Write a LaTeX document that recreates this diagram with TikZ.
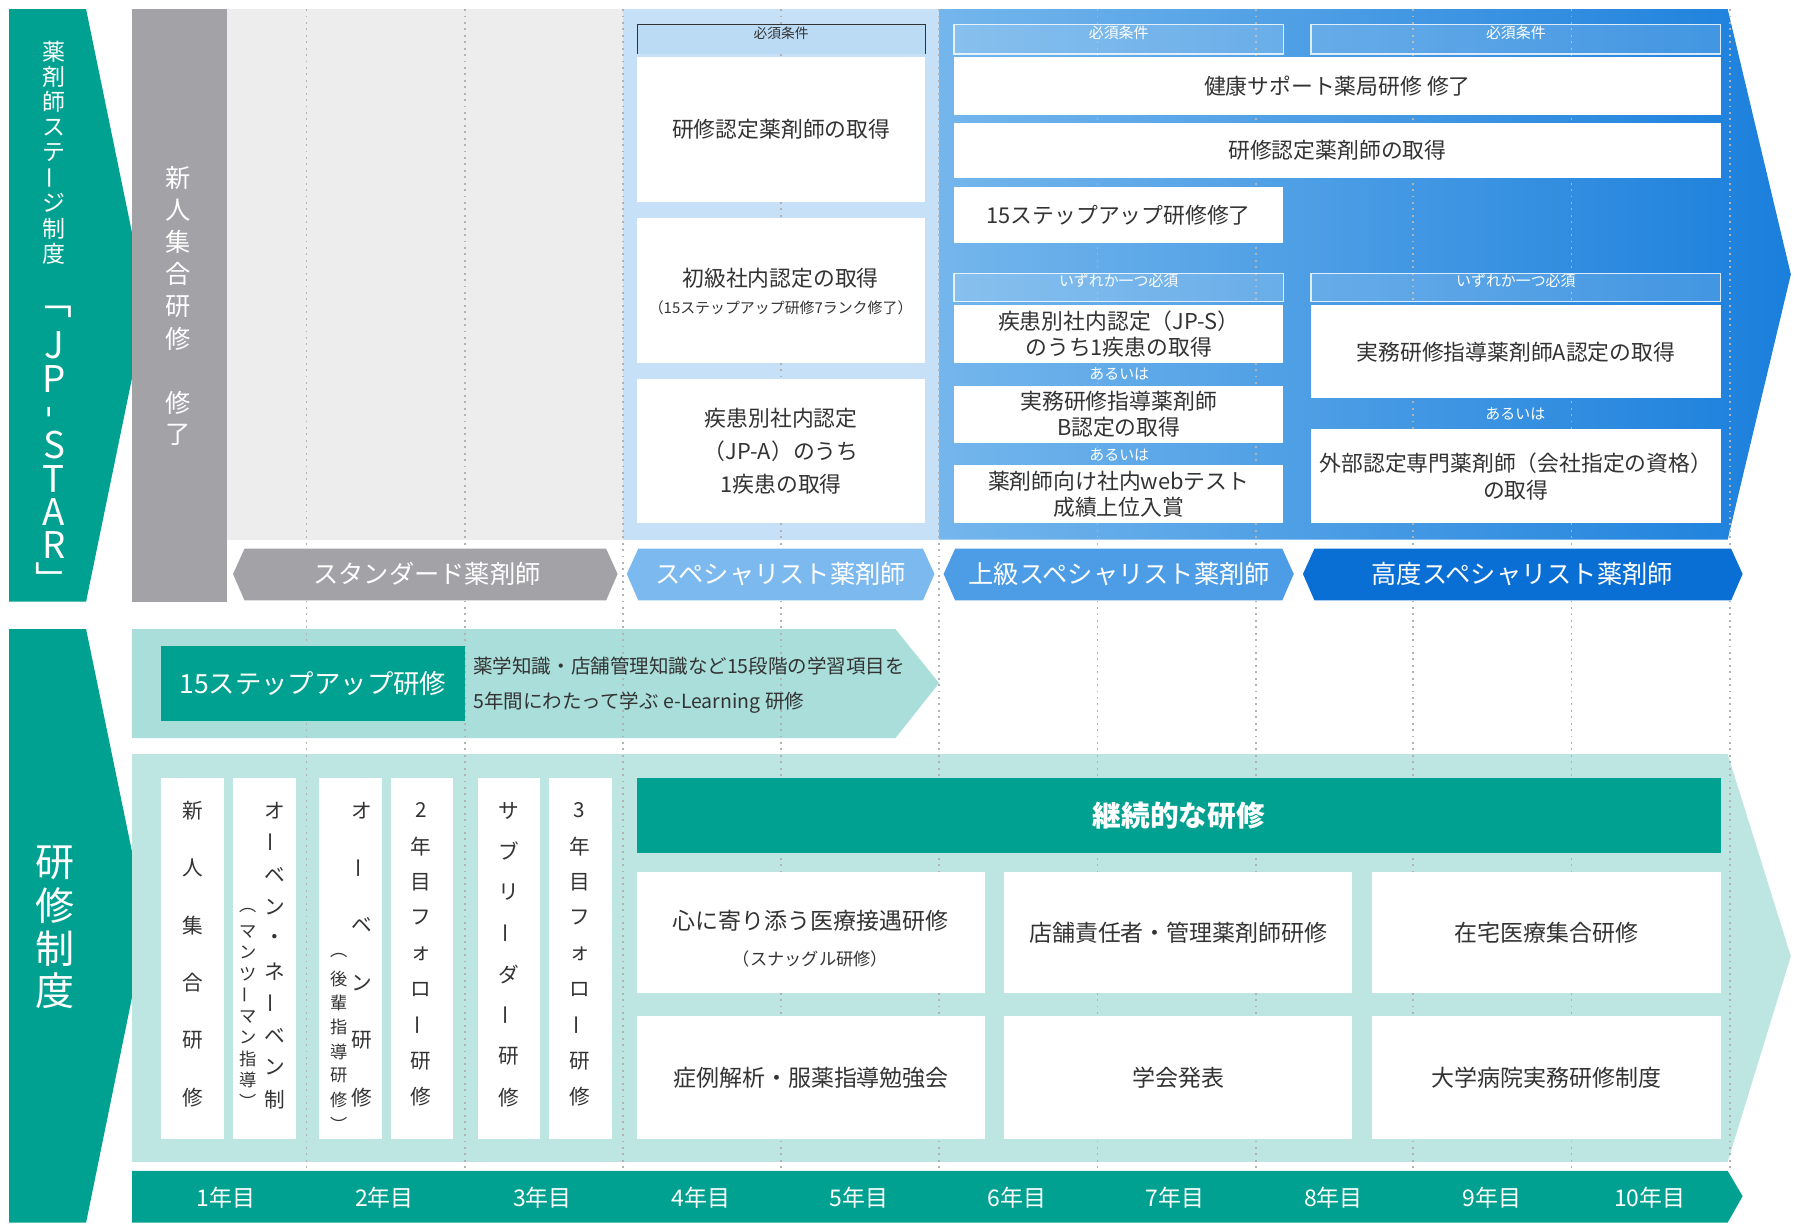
\documentclass[tikz,border=0pt]{standalone}
\usepackage{fontspec}
\setmainfont{Noto Sans CJK JP}
\usetikzlibrary{fit}
\definecolor{teal1}{HTML}{00A190}
\definecolor{teall}{HTML}{A9DEDA}
\definecolor{teallb}{HTML}{BDE6E3}
\definecolor{grayc}{HTML}{A2A2A7}
\definecolor{graybg}{HTML}{EDEDEE}
\definecolor{lbbg}{HTML}{C6E1F7}
\definecolor{lbhd}{HTML}{BBDBF5}
\definecolor{bl1}{HTML}{74B6EC}
\definecolor{bl2}{HTML}{1A7FDC}
\definecolor{st2}{HTML}{7CB9EE}
\definecolor{st3}{HTML}{4C9DE6}
\definecolor{st4}{HTML}{0A6FD4}
\definecolor{txt}{HTML}{333333}
\newcommand{\vcol}[5]{\foreach \ch [count=\i] in {#5} \node[font=#4, inner sep=0] at (#1, {#2+(\i-1)*#3}) {\ch};}
\newcommand{\vb}{\rotatebox{90}{ー}}
\begin{document}
\begin{tikzpicture}[x=0.5pt,y=-0.5pt,
  wb/.style={fill=white, inner sep=0, align=center, text=txt, font=\fontsize{9.5}{13}\selectfont},
  hdrL/.style={fill=lbhd, inner sep=0, text=txt, font=\fontsize{6}{7}\selectfont},
  hdrB/.style={fill=white, fill opacity=0.15, text opacity=1, draw=white, draw opacity=0.8, line width=0.5pt, inner sep=0, text=white, font=\fontsize{6.5}{7}\selectfont},
  orw/.style={text=white, font=\fontsize{6.5}{7}\selectfont, inner sep=0},
  stg/.style={text=white, font=\fontsize{11}{12}\selectfont, inner sep=0},
  yr/.style={text=white, font=\fontsize{10}{12}\selectfont, inner sep=0},
  dotl/.style={gray!60, dotted, line width=0.8pt},
  tw/.style={fill=white, inner sep=0, text=txt},
]
\useasboundingbox (0,0) rectangle (1568,1071.5);
\fill[white] (0,0) rectangle (1568,1071.5);
% backgrounds top
\fill[teal1] (8,8) -- (75,8) -- (128,266) -- (75,524) -- (8,524) -- cycle;
\fill[grayc] (115,8) rectangle (198,524);
\fill[graybg] (198,8) rectangle (543,470);
\fill[lbbg] (543,8) rectangle (818,470);
\shade[left color=bl1, right color=bl2] (818,8) -- (1505,8) -- (1560,239) -- (1505,470) -- (818,470) -- cycle;
% bottom backgrounds
\fill[teal1] (8,548) -- (75,548) -- (128,805) -- (75,1065) -- (8,1065) -- cycle;
\fill[teall] (115,548) -- (780,548) -- (818,595) -- (780,643) -- (115,643) -- cycle;
\fill[teallb] (115,657) -- (1505,657) -- (1560,833) -- (1505,1012) -- (115,1012) -- cycle;
\fill[teal1] (115,1020) -- (1505,1020) -- (1518,1042) -- (1505,1065) -- (115,1065) -- cycle;
% dotted grid
\foreach \x in {267,405,543,680,818,956,1094,1231,1369,1507}
  \draw[dotl] (\x,8) -- (\x,1020);
% left labels
\vcol{47}{45}{22}{\fontsize{10}{10}\selectfont\color{white}}{薬,剤,師,ス,テ,{\vb},ジ,制,度}
\vcol{47}{272}{29}{\fontsize{16}{16}\selectfont\color{white}}{﹁,J,P,{\rotatebox{90}{-}},S,T,A,R,﹂}
\vcol{155}{155}{28}{\fontsize{11}{11}\selectfont\color{white}}{新,人,集,合,研,修,{},修,了}
\vcol{48}{752}{37}{\fontsize{17}{17}\selectfont\color{white}}{研,修,制,度}
% specialist column
\node[hdrL, fit={(555,21)(806,47)}] (h1) {必須条件};
\draw[txt, line width=0.5pt] (555,47) -- (555,21) -- (806,21) -- (806,47);
\node[wb, fit={(555,50)(806,176)}] (a1) {};
\node[wb] at (a1) {研修認定薬剤師の取得};
\node[wb, fit={(555,190)(806,316)}] (a2) {};
\node[wb] at (680,242) {初級社内認定の取得};
\node[wb, font=\fontsize{6.5}{8}\selectfont] at (680,268) {（15ステップアップ研修7ランク修了）};
\node[wb, fit={(555,330)(806,456)}] (a3) {};
\node[wb, font=\fontsize{9.5}{14.5}\selectfont] at (a3) {疾患別社内認定\\（JP-A）のうち\\1疾患の取得};
% advanced
\node[hdrB, fit={(831,21)(1118,47)}] (h2) {必須条件};
\node[hdrB, fit={(1142,21)(1499,47)}] (h3) {必須条件};
\node[wb, fit={(831,50)(1499,100)}] (b1) {};
\node[wb] at (b1) {健康サポート薬局研修\ 修了};
\node[wb, fit={(831,107)(1499,155)}] (b2) {};
\node[wb] at (b2) {研修認定薬剤師の取得};
\node[wb, fit={(831,163)(1118,212)}] (b3) {};
\node[wb] at (b3) {15ステップアップ研修修了};
\node[hdrB, fit={(831,238)(1118,263)}] (h4) {いずれか一つ必須};
\node[hdrB, fit={(1142,238)(1499,263)}] (h5) {いずれか一つ必須};
\node[wb, fit={(831,266)(1118,316)}] (c1) {};
\node[wb, font=\fontsize{9.5}{11.5}\selectfont] at (c1) {疾患別社内認定（JP-S）\\のうち1疾患の取得};
\node[orw] (o1) at (975,326) {あるいは};
\node[wb, fit={(831,336)(1118,386)}] (c2) {};
\node[wb, font=\fontsize{9.5}{11.5}\selectfont] at (c2) {実務研修指導薬剤師\\B認定の取得};
\node[orw] (o2) at (975,396) {あるいは};
\node[wb, fit={(831,405)(1118,456)}] (c3) {};
\node[wb, font=\fontsize{9.5}{11.5}\selectfont] at (c3) {薬剤師向け社内webテスト\\成績上位入賞};
\node[wb, fit={(1142,266)(1499,347)}] (d1) {};
\node[wb] at (d1) {実務研修指導薬剤師A認定の取得};
\node[orw] (o3) at (1320,361) {あるいは};
\node[wb, fit={(1142,374)(1499,456)}] (d2) {};
\node[wb, font=\fontsize{9.5}{11.5}\selectfont] at (d2) {外部認定専門薬剤師（会社指定の資格）\\の取得};
% stage banners
\fill[grayc] (213,478) -- (528,478) -- (538,500) -- (528,523) -- (213,523) -- (203,500) -- cycle;
\node[stg] (s1) at (372,500) {スタンダード薬剤師};
\fill[st2] (556,478) -- (804,478) -- (814,500) -- (804,523) -- (556,523) -- (546,500) -- cycle;
\node[stg] (s2) at (680,500) {スペシャリスト薬剤師};
\fill[st3] (832,478) -- (1117,478) -- (1127,500) -- (1117,523) -- (832,523) -- (822,500) -- cycle;
\node[stg] (s3) at (975,500) {上級スペシャリスト薬剤師};
\fill[st4] (1145,478) -- (1508,478) -- (1518,500) -- (1508,523) -- (1145,523) -- (1135,500) -- cycle;
\node[stg] (s4) at (1326,500) {高度スペシャリスト薬剤師};
% step up
\node[fill=teal1, inner sep=0, fit={(140,563)(405,628)}] (su) {};
\node[text=white, font=\fontsize{11.5}{12}\selectfont] at (su) {15ステップアップ研修};
\node[text=txt, anchor=west, inner sep=0, font=\fontsize{8.5}{10}\selectfont] (su1) at (412,580) {薬学知識・店舗管理知識など15段階の学習項目を};
\node[text=txt, anchor=west, inner sep=0, font=\fontsize{8.5}{10}\selectfont] (su2) at (412,612) {5年間にわたって学ぶ e-Learning 研修};
% vertical training boxes
\foreach \xa/\xb [count=\k] in {140/195,203/258,278/333,341/395,416/470,478/533}
  \node[fill=white, inner sep=0, fit={(\xa,678)(\xb,992)}] (v\k) {};
\vcol{168}{706}{50}{\fontsize{9}{9}\selectfont\color{txt}}{新,人,集,合,研,修}
\vcol{239}{706}{28}{\fontsize{9}{9}\selectfont\color{txt}}{オ,{\vb},ベ,ン,・,ネ,{\vb},ベ,ン,制}
\vcol{216}{793}{18.5}{\fontsize{7.5}{7.5}\selectfont\color{txt}}{︵,マ,ン,ツ,{\vb},マ,ン,指,導,︶}
\vcol{315}{706}{50}{\fontsize{9}{9}\selectfont\color{txt}}{オ,{\vb},ベ,ン,研,修}
\vcol{295}{832}{21}{\fontsize{7.5}{7.5}\selectfont\color{txt}}{︵,後,輩,指,導,研,修,︶}
\vcol{367}{706}{31.2}{\fontsize{9}{9}\selectfont\color{txt}}{2,年,目,フ,ォ,ロ,{\vb},研,修}
\vcol{443}{706}{35.7}{\fontsize{9}{9}\selectfont\color{txt}}{サ,ブ,リ,{\vb},ダ,{\vb},研,修}
\vcol{505}{706}{31.2}{\fontsize{9}{9}\selectfont\color{txt}}{3,年,目,フ,ォ,ロ,{\vb},研,修}
% continuing
\node[fill=teal1, inner sep=0, fit={(555,678)(1499,743)}] (kz) {};
\node[text=white, font=\bfseries\fontsize{12.5}{13}\selectfont] at (kz) {継続的な研修};
\node[wb, fit={(555,760)(858,865)}] (e1) {};
\node[wb, font=\fontsize{10}{12}\selectfont] at (706,802) {心に寄り添う医療接遇研修};
\node[wb, font=\fontsize{7.5}{9}\selectfont] at (706,835) {（スナッグル研修）};
\node[wb, fit={(875,760)(1178,865)}] (e2) {};
\node[wb, font=\fontsize{10}{12}\selectfont] at (e2) {店舗責任者・管理薬剤師研修};
\node[wb, fit={(1195,760)(1499,865)}] (e3) {};
\node[wb, font=\fontsize{10}{12}\selectfont] at (e3) {在宅医療集合研修};
\node[wb, fit={(555,885)(858,992)}] (f1) {};
\node[wb, font=\fontsize{10}{12}\selectfont] at (f1) {症例解析・服薬指導勉強会};
\node[wb, fit={(875,885)(1178,992)}] (f2) {};
\node[wb, font=\fontsize{10}{12}\selectfont] at (f2) {学会発表};
\node[wb, fit={(1195,885)(1499,992)}] (f3) {};
\node[wb, font=\fontsize{10}{12}\selectfont] at (f3) {大学病院実務研修制度};
% years
\foreach \t [count=\i] in {1年目,2年目,3年目,4年目,5年目,6年目,7年目,8年目,9年目,10年目}
  \node[yr] (y\i) at ({197+(\i-1)*137.8},1043) {\t};
\end{tikzpicture}
\end{document}
